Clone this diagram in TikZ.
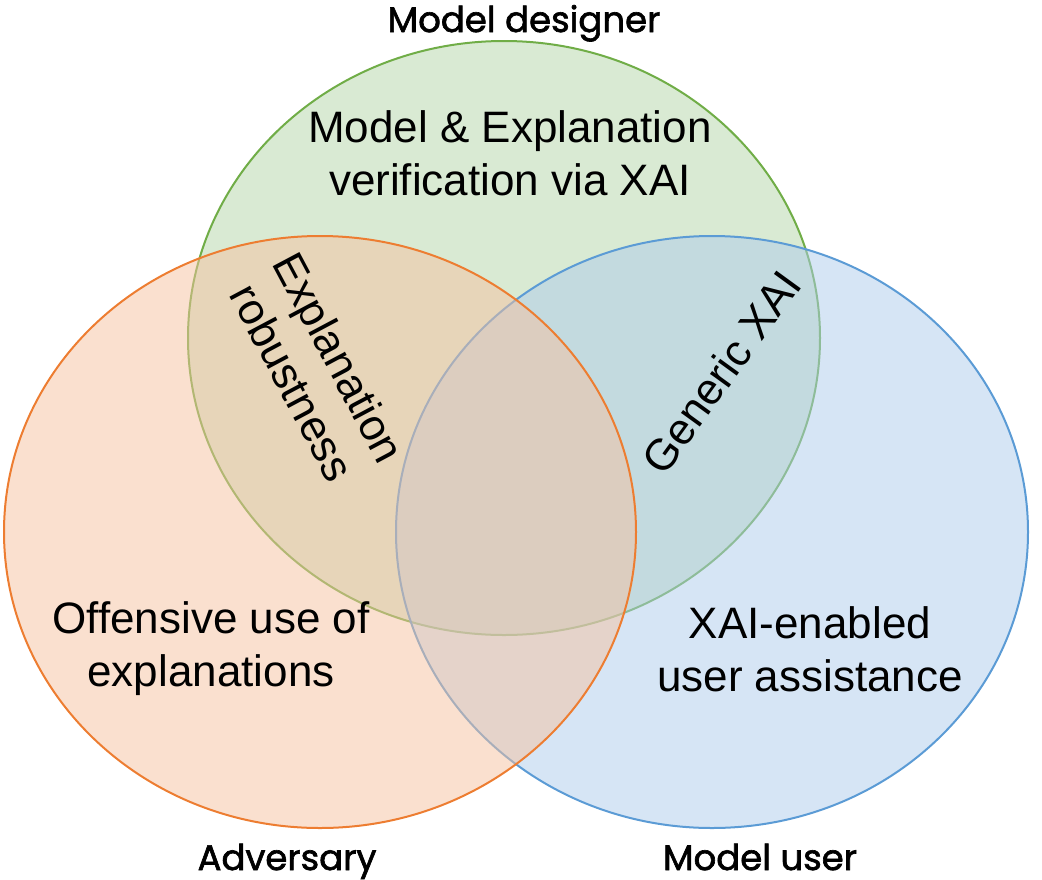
\documentclass[tikz,border=0pt]{standalone}
\usepackage{fontspec}
\setmainfont{Liberation Sans}
\newfontfamily\labelfont[FakeBold=1.8]{Poppins}
\definecolor{gstroke}{HTML}{70AD47}
\definecolor{gfill}{RGB}{179,213,167}
\definecolor{ostroke}{HTML}{ED7D31}
\definecolor{ofill}{RGB}{245,193,160}
\definecolor{bstroke}{HTML}{5B9BD5}
\definecolor{bfill}{RGB}{173,203,235}
\begin{document}
\begin{tikzpicture}[x=1pt,y=1pt,
  setshape/.style={line width=2pt, fill opacity=0.5},
  maintext/.style={font=\fontsize{44}{53}\selectfont, align=center, inner sep=0pt},
  rolelabel/.style={font=\labelfont\fontsize{35.5}{40}\selectfont, inner sep=0pt, anchor=base}]
\useasboundingbox (0,0) rectangle (1042,-879);
\draw[setshape, draw=gstroke, fill=gfill] (504,-338) ellipse [x radius=316pt, y radius=297pt];
\draw[setshape, draw=bstroke, fill=bfill] (712,-532) ellipse [x radius=316pt, y radius=296pt];
\draw[setshape, draw=ostroke, fill=ofill] (320,-532) ellipse [x radius=316pt, y radius=296pt];
\node[rolelabel] (designer) at (524,-32) {Model designer};
\node[rolelabel] (adversary) at (287,-870) {Adversary};
\node[rolelabel] (user) at (760,-870) {Model user};
\node[maintext] (verif) at (510,-153) {Model \& Explanation\\verification via XAI};
\node[maintext, rotate=-62] (robust) at (316,-370) {Explanation\\robustness};
\node[maintext, rotate=54] (generic) at (721,-372) {Generic XAI};
\node[maintext] (offensive) at (211,-649) {Offensive use of\\explanations};
\node[maintext] (assist) at (810,-649) {XAI-enabled\\user assistance};
\end{tikzpicture}
\end{document}
